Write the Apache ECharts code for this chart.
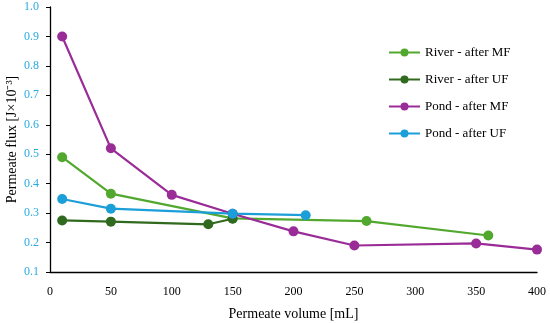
<!DOCTYPE html>
<html><head><meta charset="utf-8">
<script src="https://cdn.jsdelivr.net/npm/echarts@6/dist/echarts.min.js"></script>
<style>html,body{margin:0;padding:0;background:#fff}#c{width:550px;height:323px}</style>
</head><body><div id="c"></div>
<script>
const riverMF = [[10,0.49],[50,0.366],[150,0.282],[260,0.273],[360,0.224]];
const riverUF = [[10,0.275],[50,0.271],[130,0.262],[150,0.281]];
const pondMF = [[10,0.9],[50,0.52],[100,0.362],[150,0.298],[200,0.238],[250,0.19],[350,0.197],[400,0.176]];
const pondUF = [[10,0.348],[50,0.315],[150,0.298],[210,0.293]];
const names = ['River - after MF','River - after UF','Pond - after MF','Pond - after UF'];
const colors = ['#52a82e','#2f6a1e','#9a2c98','#1c9fd8'];
const font = 'Liberation Serif';
const chart = echarts.init(document.getElementById('c'));
const mk = (n, d, c) => ({name:n, type:'line', data:d, symbol:'circle', symbolSize:10,
  lineStyle:{width:2.2,color:c}, itemStyle:{color:c}, z: 2});
chart.setOption({
  animation:false,
  color: colors,
  grid:{left:50, right:13, top:7, bottom:51, containLabel:false, outerBoundsMode:'none'},
  legend:{orient:'vertical', left:383, top:41, itemGap:14, itemWidth:31, itemHeight:10,
    textStyle:{fontFamily:font, fontSize:13, color:'#000'}, data:names},
  xAxis:{type:'value', min:0, max:400, interval:50,
    name:'Permeate volume [mL]', nameLocation:'middle', nameGap:35,
    nameTextStyle:{fontFamily:font, fontSize:14, color:'#000'},
    axisLine:{show:true, lineStyle:{color:'#000', width:1.3}}, axisTick:{show:false},
    axisLabel:{fontFamily:font, fontSize:12, color:'#000', margin:14},
    splitLine:{show:false}},
  yAxis:{type:'value', min:0.1, max:1.0, interval:0.1,
    name:'Permeate flux [J×10⁻³]', nameLocation:'middle', nameGap:31, nameMoveOverlap:false,
    nameTextStyle:{fontFamily:font, fontSize:14, color:'#000'},
    axisLine:{show:true, lineStyle:{color:'#000', width:1.3}},
    axisTick:{show:true, length:4, lineStyle:{color:'#000'}},
    axisLabel:{fontFamily:font, fontSize:12, color:'#29abe2', margin:11,
      formatter: v => v.toFixed(1)},
    splitLine:{show:false}},
  series:[mk(names[0],riverMF,colors[0]), mk(names[1],riverUF,colors[1]),
          mk(names[2],pondMF,colors[2]), mk(names[3],pondUF,colors[3])]
});
</script></body></html>
